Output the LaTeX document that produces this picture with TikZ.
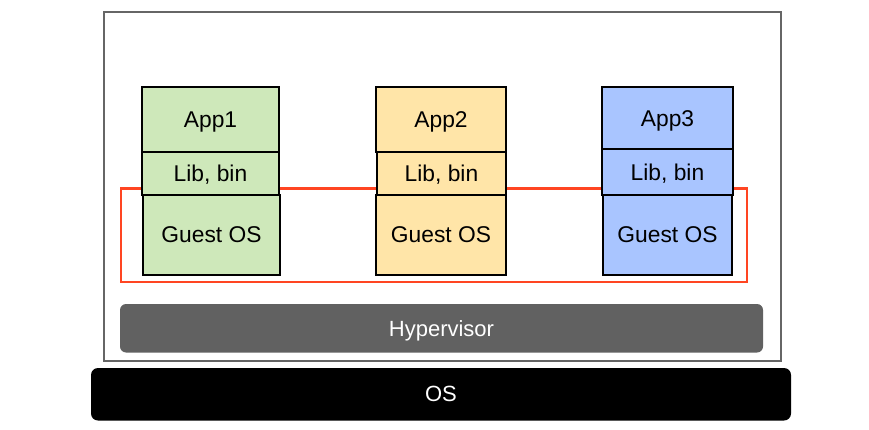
\documentclass[tikz,border=0pt]{standalone}
\usepackage{fontspec}
\setmainfont{Liberation Sans}
\usepackage{xcolor}
\usetikzlibrary{positioning}

\definecolor{appgreen}{RGB}{206,232,186}
\definecolor{appyellow}{RGB}{255,229,168}
\definecolor{appblue}{RGB}{169,197,255}
\definecolor{markred}{RGB}{255,69,34}
\definecolor{hypergray}{RGB}{97,97,97}
\definecolor{framegray}{RGB}{102,102,102}

\begin{document}
\begin{tikzpicture}[x=1pt, y=-1pt, every node/.style={font=\fontsize{22.8}{27}\selectfont, align=center, inner sep=0pt, outer sep=0pt, text depth=0pt}, layer/.style={rectangle, draw=black, line width=2pt}, highlight/.style={draw=markred, line width=2.8pt}, platform/.style={rectangle, rounded corners=6pt, text=white}]
\useasboundingbox (0,0) rectangle (869,430);
\draw[framegray, line width=1.5pt] (104,12) rectangle (781,361);
\draw[highlight] (121,188.5) rectangle (747,282);

% stack 1
\node[layer, fill=appgreen, minimum width=137pt, minimum height=64.5pt] (app1) at (210.5,119.75) {App1};
\node[layer, fill=appgreen, minimum width=137pt, minimum height=43pt, below=0pt of app1] (lib1) {Lib, bin};
\node[layer, fill=appgreen, minimum width=137pt, minimum height=80pt, below=0pt of lib1, xshift=1pt] (guest1) {Guest OS};

% stack 2
\node[layer, fill=appyellow, minimum width=130pt, minimum height=64.5pt] (app2) at (441,119.75) {App2};
\node[layer, fill=appyellow, minimum width=129pt, minimum height=43pt, below=0pt of app2, xshift=0.5pt] (lib2) {Lib, bin};
\node[layer, fill=appyellow, minimum width=130pt, minimum height=80pt, below=0pt of lib2, xshift=-0.5pt] (guest2) {Guest OS};

% stack 3
\node[layer, fill=appblue, minimum width=131pt, minimum height=61.5pt] (app3) at (667.5,118.25) {App3};
\node[layer, fill=appblue, minimum width=131pt, minimum height=46pt, below=0pt of app3] (lib3) {Lib, bin};
\node[layer, fill=appblue, minimum width=129pt, minimum height=80pt, below=0pt of lib3] (guest3) {Guest OS};

\node[platform, fill=hypergray, minimum width=643pt, minimum height=48.5pt, font=\fontsize{22}{26}\selectfont] (hyper) at (441.5,328.25) {Hypervisor};
\node[platform, fill=black, rounded corners=7pt, minimum width=700pt, minimum height=52.5pt, font=\fontsize{22}{26}\selectfont] (hostos) at (441,394.25) {OS};
\end{tikzpicture}
\end{document}
